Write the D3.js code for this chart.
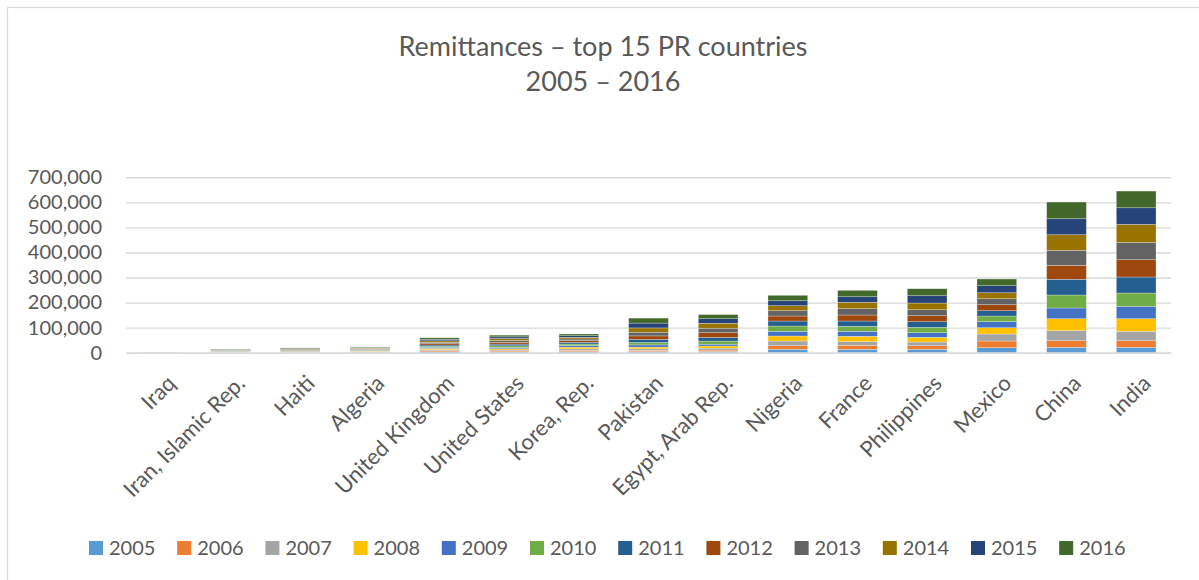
<!DOCTYPE html>
<html>
<head>
<meta charset="utf-8">
<script src="https://cdn.jsdelivr.net/npm/d3@7"></script>
<style>
  html, body { margin: 0; padding: 0; background: #fff; }
  svg { display: block; }
  text { font-family: Lato, "Open Sans", sans-serif; fill: #595959; }
</style>
</head>
<body>
<svg id="chart" width="1199" height="580"></svg>
<script>
// Countries (x categories)
const countries = ["Iraq", "Iran, Islamic Rep.", "Haiti", "Algeria", "United Kingdom",
  "United States", "Korea, Rep.", "Pakistan", "Egypt, Arab Rep.", "Nigeria",
  "France", "Philippines", "Mexico", "China", "India"];

// Years (stack series)
const years = ["2005", "2006", "2007", "2008", "2009", "2010",
  "2011", "2012", "2013", "2014", "2015", "2016"];

// Remittance inflows per year, one value per country (same order as countries)
const v2005 = [150, 1030, 990, 2060, 3900, 3500, 4300, 4300, 5000, 13600, 13600, 13600, 20000, 21500, 21500];
const v2006 = [160, 1050, 1060, 1610, 4100, 3600, 4900, 5100, 5300, 14300, 15900, 14300, 26700, 26400, 26400];
const v2007 = [170, 1120, 1220, 2120, 4400, 4100, 5900, 6000, 7700, 18800, 14400, 14800, 27900, 39900, 37500];
const v2008 = [180, 1100, 1370, 2200, 4700, 4600, 6900, 7000, 8700, 19900, 21500, 18700, 25100, 47800, 50200];
const v2009 = [180, 1040, 1380, 2060, 4400, 5200, 6300, 8700, 7200, 18800, 20000, 18400, 24000, 42800, 49500];
const v2010 = [200, 1180, 1470, 1900, 4300, 6500, 6400, 9700, 12500, 21100, 19900, 21500, 22700, 51900, 53000];
const v2011 = [280, 1330, 1550, 1800, 4900, 6800, 7000, 12300, 14300, 19900, 21100, 22400, 21100, 62600, 63900];
const v2012 = [280, 1300, 1610, 1800, 5300, 7300, 6600, 14000, 19200, 20000, 24000, 23900, 24000, 55800, 69000];
const v2013 = [290, 1280, 1780, 1800, 5500, 7400, 6500, 14600, 17800, 21100, 25100, 23900, 23900, 59900, 69400];
const v2014 = [290, 1330, 1980, 1900, 5800, 7600, 6500, 17200, 19600, 20000, 25500, 26700, 23900, 62200, 71800];
const v2015 = [300, 1330, 2200, 1800, 6100, 6700, 6500, 19300, 18300, 19900, 22400, 29200, 28000, 63800, 66200];
const v2016 = [300, 1350, 2360, 1800, 6000, 6800, 6800, 19800, 16600, 21600, 25500, 27900, 26700, 66600, 66600];

const seriesValues = [v2005, v2006, v2007, v2008, v2009, v2010, v2011, v2012, v2013, v2014, v2015, v2016];

// Y axis ticks
const yTicks = [0, 100000, 200000, 300000, 400000, 500000, 600000, 700000];

const colors = ["#5B9BD5", "#ED7D31", "#A5A5A5", "#FFC000", "#4472C4", "#70AD47",
  "#255E91", "#9E480E", "#636363", "#997300", "#264478", "#43682B"];

// Rows for d3.stack: one object per country
const rows = countries.map((c, i) => {
  const r = { country: c };
  years.forEach((y, j) => { r[y] = seriesValues[j][i]; });
  return r;
});

const svg = d3.select("#chart");

// Outer chart border
svg.append("rect")
  .attr("x", 7.5).attr("y", 7.5)
  .attr("width", 1300).attr("height", 700)
  .attr("fill", "none").attr("stroke", "#d9d9d9").attr("stroke-width", 1.2);

const plot = { left: 126, right: 1171, top: 177.3, bottom: 352.7 };

const x = d3.scaleBand()
  .domain(countries)
  .range([plot.left, plot.right])
  .paddingInner(0.43)
  .paddingOuter(0.215);

const y = d3.scaleLinear()
  .domain([0, 700000])
  .range([plot.bottom, plot.top]);

// Title
const title = svg.append("text")
  .attr("text-anchor", "middle")
  .style("font-size", "27px");
title.append("tspan").attr("x", 603).attr("y", 56).text("Remittances – top 15 PR countries");
title.append("tspan").attr("x", 603).attr("y", 91).text("2005 – 2016");

// Gridlines and y labels
const yAxis = d3.axisLeft(y)
  .tickValues(yTicks)
  .tickSize(-(plot.right - plot.left))
  .tickPadding(24)
  .tickFormat(d3.format(","));

const gy = svg.append("g")
  .attr("transform", `translate(${plot.left},0)`)
  .call(yAxis);
gy.select(".domain").remove();
gy.selectAll(".tick line").attr("stroke", "#d9d9d9").attr("stroke-width", 1.4);
gy.selectAll(".tick text")
  .attr("fill", "#595959")
  .style("font-size", "20px")
  .style("font-family", "Lato, 'Open Sans', sans-serif");

// Stacked bars
const stack = d3.stack().keys(years);
const layers = stack(rows);

svg.append("g")
  .selectAll("g")
  .data(layers)
  .join("g")
  .attr("fill", (d, i) => colors[i])
  .selectAll("rect")
  .data(d => d)
  .join("rect")
  .attr("x", d => x(d.data.country))
  .attr("width", x.bandwidth())
  .attr("y", d => y(d[1]))
  .attr("height", d => Math.max(0, y(d[0]) - y(d[1])))
  .attr("stroke", "rgba(255,255,255,0.45)")
  .attr("stroke-width", 0.6);

// X axis with rotated category labels
const xAxis = d3.axisBottom(x).tickSize(0).tickPadding(0);
const gx = svg.append("g")
  .attr("transform", `translate(0,${plot.bottom})`)
  .call(xAxis);
gx.select(".domain").attr("stroke", "#d9d9d9").attr("stroke-width", 1.4);
gx.selectAll(".tick text")
  .attr("fill", "#595959")
  .style("font-size", "22px")
  .style("font-family", "Lato, 'Open Sans', sans-serif")
  .attr("text-anchor", "end")
  .attr("dy", null)
  .attr("y", 0)
  .attr("transform", "translate(16,32) rotate(-45)");

// Legend
const legend = svg.append("g");
const lx0 = 89, lstep = 88.2, ly = 548;
years.forEach((yr, i) => {
  const g = legend.append("g").attr("transform", `translate(${lx0 + i * lstep},${ly})`);
  g.append("rect").attr("x", 0).attr("y", -7).attr("width", 14).attr("height", 14).attr("fill", colors[i]);
  g.append("text").attr("x", 20).attr("y", 7).style("font-size", "20px").text(yr);
});
</script>
</body>
</html>
